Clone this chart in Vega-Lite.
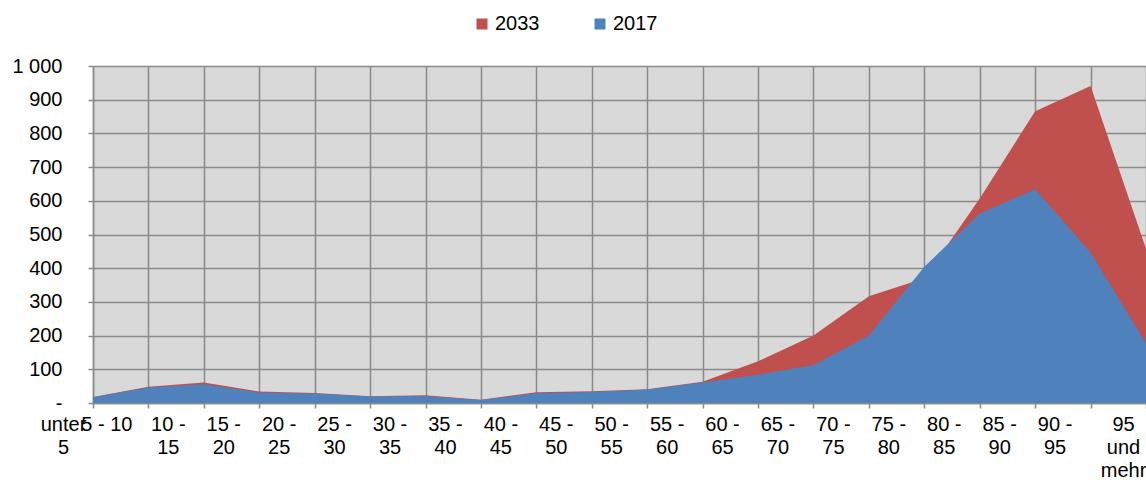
{
  "$schema": "https://vega.github.io/schema/vega-lite/v6.json",
  "width": 1053,
  "height": 337,
  "autosize": {"type": "none"},
  "padding": {"left": 93, "top": 66, "right": 0, "bottom": 80},
  "background": "white",
  "config": {
    "font": "Liberation Sans",
    "view": {"fill": "#D9D9D9", "stroke": null},
    "axis": {
      "labelFont": "Liberation Sans",
      "labelFontSize": 20,
      "labelColor": "#000000",
      "gridColor": "#8A8A8A",
      "gridWidth": 1.5,
      "gridOpacity": 1,
      "domainColor": "#8A8A8A",
      "domainWidth": 1.5,
      "tickColor": "#8A8A8A",
      "tickWidth": 1.5,
      "tickSize": 5,
      "title": null
    }
  },
  "data": {
    "values": [
      {"age": "unter 5", "year": "2017", "value": 17},
      {"age": "5 - 10", "year": "2017", "value": 46},
      {"age": "10 - 15", "year": "2017", "value": 56},
      {"age": "15 - 20", "year": "2017", "value": 31},
      {"age": "20 - 25", "year": "2017", "value": 28},
      {"age": "25 - 30", "year": "2017", "value": 19},
      {"age": "30 - 35", "year": "2017", "value": 21},
      {"age": "35 - 40", "year": "2017", "value": 9},
      {"age": "40 - 45", "year": "2017", "value": 29},
      {"age": "45 - 50", "year": "2017", "value": 33},
      {"age": "50 - 55", "year": "2017", "value": 40},
      {"age": "55 - 60", "year": "2017", "value": 61},
      {"age": "60 - 65", "year": "2017", "value": 84},
      {"age": "65 - 70", "year": "2017", "value": 113},
      {"age": "70 - 75", "year": "2017", "value": 200},
      {"age": "75 - 80", "year": "2017", "value": 404},
      {"age": "80 - 85", "year": "2017", "value": 562},
      {"age": "85 - 90", "year": "2017", "value": 634},
      {"age": "90 - 95", "year": "2017", "value": 446},
      {"age": "95 und mehr", "year": "2017", "value": 178},
      {"age": "unter 5", "year": "2033", "value": 18},
      {"age": "5 - 10", "year": "2033", "value": 48},
      {"age": "10 - 15", "year": "2033", "value": 61},
      {"age": "15 - 20", "year": "2033", "value": 34},
      {"age": "20 - 25", "year": "2033", "value": 30},
      {"age": "25 - 30", "year": "2033", "value": 20},
      {"age": "30 - 35", "year": "2033", "value": 23},
      {"age": "35 - 40", "year": "2033", "value": 10},
      {"age": "40 - 45", "year": "2033", "value": 32},
      {"age": "45 - 50", "year": "2033", "value": 35},
      {"age": "50 - 55", "year": "2033", "value": 41},
      {"age": "55 - 60", "year": "2033", "value": 63},
      {"age": "60 - 65", "year": "2033", "value": 124},
      {"age": "65 - 70", "year": "2033", "value": 200},
      {"age": "70 - 75", "year": "2033", "value": 317},
      {"age": "75 - 80", "year": "2033", "value": 370},
      {"age": "80 - 85", "year": "2033", "value": 607},
      {"age": "85 - 90", "year": "2033", "value": 866},
      {"age": "90 - 95", "year": "2033", "value": 941},
      {"age": "95 und mehr", "year": "2033", "value": 458}
    ]
  },
  "encoding": {
    "x": {
      "field": "age",
      "type": "ordinal",
      "sort": null,
      "scale": {"type": "point", "padding": 0},
      "axis": {
        "grid": true,
        "labelAngle": 0,
        "labelPadding": 6,
        "labelLineHeight": 23,
        "labelBaseline": "top",
        "labelOverlap": false,
        "labelFlush": false,
        "labelBound": false,
        "labelExpr": "datum.value == 'unter 5' ? ['unter', '5'] : datum.value == '95 und mehr' ? ['95', 'und', 'mehr'] : datum.value == '5 - 10' ? '5 - 10' : [split(datum.value, ' - ')[0] + ' -', split(datum.value, ' - ')[1]]",
        "labelOffset": {
          "condition": [
            {"test": "datum.value == 'unter 5'", "value": -30},
            {"test": "datum.value == '5 - 10'", "value": -42},
            {"test": "datum.value == '95 und mehr'", "value": -23}
          ],
          "value": -36
        }
      }
    },
    "y": {
      "field": "value",
      "type": "quantitative",
      "stack": null,
      "scale": {"domain": [0, 1000], "nice": false},
      "axis": {
        "values": [0, 100, 200, 300, 400, 500, 600, 700, 800, 900, 1000],
        "labelPadding": 26,
        "labelExpr": "datum.value == 0 ? '-' : replace(format(datum.value, ','), ',', ' ')"
      }
    },
    "color": {
      "field": "year",
      "type": "nominal",
      "scale": {"domain": ["2033", "2017"], "range": ["#C0504D", "#4F81BD"]},
      "legend": {
        "title": null,
        "orient": "none",
        "direction": "horizontal",
        "legendX": 379,
        "legendY": -52,
        "symbolType": "square",
        "symbolSize": 121,
        "symbolStrokeWidth": 0,
        "labelFont": "Liberation Sans",
        "labelFontSize": 20,
        "labelColor": "#000000",
        "labelOffset": 3,
        "columnPadding": 50,
        "padding": 0
      }
    }
  },
  "layer": [
    {
      "transform": [{"filter": "datum.year == '2033'"}],
      "mark": {"type": "area", "opacity": 1}
    },
    {
      "transform": [{"filter": "datum.year == '2017'"}],
      "mark": {"type": "area", "opacity": 1}
    }
  ]
}
